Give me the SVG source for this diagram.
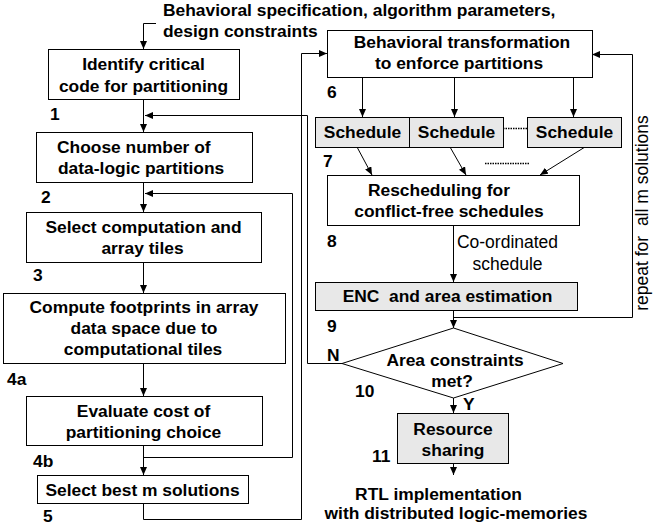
<svg xmlns="http://www.w3.org/2000/svg" width="653" height="529" viewBox="0 0 653 529">
  <style>
    .box { fill: #ffffff; stroke: #000000; stroke-width: 1; }
    .gbox { fill: #e8e8e8; stroke: #000000; stroke-width: 1; }
    .t { font-family: "Liberation Sans", Arial, sans-serif; font-size: 17.4px; font-weight: bold; fill: #000000; text-anchor: middle; }
    .n { font-family: "Liberation Sans", Arial, sans-serif; font-size: 17.4px; font-weight: bold; fill: #000000; }
    .r { font-family: "Liberation Sans", Arial, sans-serif; font-size: 17.5px; fill: #000000; text-anchor: middle; }
    .c { fill: none; stroke: #000000; stroke-width: 1; }
    .dot { fill: none; stroke: #000000; stroke-width: 1.5; stroke-dasharray: 1.5 1; }
  </style>
  <defs>
    <marker id="ah" markerUnits="userSpaceOnUse" markerWidth="9" markerHeight="7" refX="8" refY="3.5" orient="auto">
      <path d="M0,0 L8,3.5 L0,7 z" fill="#000000"/>
    </marker>
  </defs>

  <rect width="653" height="529" fill="#ffffff"/>

  <!-- input specification -->
  <g id="input">
    <text class="n" x="163" y="16">Behavioral specification, algorithm parameters,</text>
    <text class="n" x="163" y="37">design constraints</text>
  </g>

  <!-- connectors -->
  <g id="connectors">
    <path class="c" d="M156,23.5 H143.5 V49" marker-end="url(#ah)"/>
    <path class="c" d="M143.5,99 V132" marker-end="url(#ah)"/>
    <path class="c" d="M143.5,182 V212" marker-end="url(#ah)"/>
    <path class="c" d="M143.5,262 V293" marker-end="url(#ah)"/>
    <path class="c" d="M143.5,363 V396" marker-end="url(#ah)"/>
    <path class="c" d="M143.5,445 V475" marker-end="url(#ah)"/>
    <!-- loop back to step 2 (N branch) -->
    <path class="c" d="M342,363.5 H307.5 V115.5 H145" marker-end="url(#ah)"/>
    <!-- loop back to step 3 -->
    <path class="c" d="M143.5,457.5 H292.5 V193.5 H145" marker-end="url(#ah)"/>
    <!-- selected solutions into transformation -->
    <path class="c" d="M143.5,503 V519.5 H301.5 V53.5 H327" marker-end="url(#ah)"/>
    <!-- transformation to schedules -->
    <path class="c" d="M362.5,77 V117" marker-end="url(#ah)"/>
    <path class="c" d="M454.5,77 V117" marker-end="url(#ah)"/>
    <path class="c" d="M573.5,77 V117" marker-end="url(#ah)"/>
    <!-- schedules to rescheduling -->
    <path class="c" d="M357,147 L372,175" marker-end="url(#ah)"/>
    <path class="c" d="M450,147 L466,175" marker-end="url(#ah)"/>
    <path class="c" d="M585,147 L540,175" marker-end="url(#ah)"/>
    <path class="dot" d="M503,128.5 H527"/>
    <path class="dot" d="M485,163.5 H530"/>
    <!-- rescheduling to estimation -->
    <path class="c" d="M453.5,225 V282" marker-end="url(#ah)"/>
    <path class="c" d="M453.5,310 V328" marker-end="url(#ah)"/>
    <!-- repeat loop -->
    <path class="c" d="M453.5,317.5 H632.5 V54.5 H592" marker-end="url(#ah)"/>
    <!-- Y branch -->
    <path class="c" d="M453.5,398 V413" marker-end="url(#ah)"/>
    <path class="c" d="M453.5,463 V475" marker-end="url(#ah)"/>
  </g>

  <g id="step1">
    <rect class="box" x="48.5" y="49.5" width="191" height="50"/>
    <text class="t" x="143.5" y="70">Identify critical</text>
    <text class="t" x="143.5" y="92">code for partitioning</text>
    <text class="n" x="50" y="120">1</text>
  </g>

  <g id="step2">
    <rect class="box" x="36.5" y="132.5" width="216" height="50"/>
    <text class="n" x="57" y="153">Choose number of</text>
    <text class="n" x="58" y="174">data-logic partitions</text>
    <text class="n" x="41" y="203">2</text>
  </g>

  <g id="step3">
    <rect class="box" x="26.5" y="212.5" width="235" height="50"/>
    <text class="t" x="143.5" y="233">Select computation and</text>
    <text class="t" x="142.5" y="254">array tiles</text>
    <text class="n" x="33" y="281">3</text>
  </g>

  <g id="step4a">
    <rect class="box" x="3.5" y="293.5" width="282" height="70"/>
    <text class="t" x="144" y="313">Compute footprints in array</text>
    <text class="t" x="144" y="334">data space due to</text>
    <text class="t" x="143" y="355">computational tiles</text>
    <text class="n" x="7" y="385">4a</text>
  </g>

  <g id="step4b">
    <rect class="box" x="26.5" y="396.5" width="236" height="49"/>
    <text class="t" x="143.5" y="417">Evaluate cost of</text>
    <text class="t" x="143.5" y="438">partitioning choice</text>
    <text class="n" x="33" y="467">4b</text>
  </g>

  <g id="step5">
    <rect class="box" x="37.5" y="475.5" width="211" height="28"/>
    <text class="t" x="142.5" y="496">Select best m solutions</text>
    <text class="n" x="43" y="522">5</text>
  </g>

  <g id="step6">
    <rect class="box" x="327.5" y="30.5" width="265" height="47"/>
    <text class="t" x="462" y="48">Behavioral transformation</text>
    <text class="t" x="459" y="69">to enforce partitions</text>
    <text class="n" x="327" y="98">6</text>
  </g>

  <g id="step7">
    <rect class="gbox" x="315.5" y="117.5" width="94" height="30"/>
    <rect class="gbox" x="409.5" y="117.5" width="94" height="30"/>
    <rect class="gbox" x="527.5" y="117.5" width="94" height="30"/>
    <text class="t" x="362.5" y="138">Schedule</text>
    <text class="t" x="456.5" y="138">Schedule</text>
    <text class="t" x="574.5" y="138">Schedule</text>
    <text class="n" x="323" y="167">7</text>
  </g>

  <g id="step8">
    <rect class="box" x="327.5" y="175.5" width="252" height="50"/>
    <text class="t" x="439" y="196">Rescheduling for</text>
    <text class="t" x="449" y="217">conflict-free schedules</text>
    <text class="n" x="327" y="247">8</text>
    <text class="r" x="507.5" y="248">Co-ordinated</text>
    <text class="r" x="507.5" y="270">schedule</text>
  </g>

  <g id="step9">
    <rect class="gbox" x="315.5" y="282.5" width="262" height="28"/>
    <text class="t" x="447.5" y="302" xml:space="preserve">ENC  and area estimation</text>
    <text class="n" x="327" y="332">9</text>
  </g>

  <g id="step10">
    <polygon class="box" points="342,363.5 453.5,328 563,363.5 453.5,398"/>
    <text class="t" x="455" y="366">Area constraints</text>
    <text class="t" x="452" y="387">met?</text>
    <text class="n" x="327" y="361">N</text>
    <text class="n" x="355" y="397">10</text>
    <text class="n" x="463" y="410">Y</text>
  </g>

  <g id="step11">
    <rect class="gbox" x="397.5" y="413.5" width="111" height="50"/>
    <text class="t" x="453" y="435">Resource</text>
    <text class="t" x="453" y="456">sharing</text>
    <text class="n" x="372" y="462">11</text>
  </g>

  <g id="output">
    <text class="t" x="438.5" y="500">RTL implementation</text>
    <text class="t" x="456" y="519">with distributed logic-memories</text>
  </g>

  <g id="repeat-label">
    <text class="r" transform="translate(648,213) rotate(-90)" xml:space="preserve">repeat for  all m solutions</text>
  </g>
</svg>
